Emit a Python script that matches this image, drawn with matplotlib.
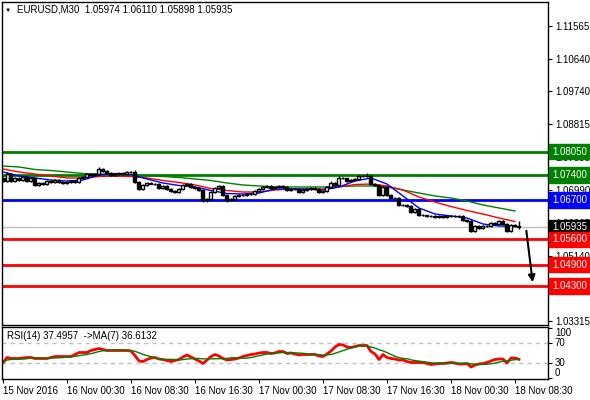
import matplotlib
matplotlib.use("Agg")
import matplotlib.pyplot as plt
import matplotlib.transforms as mtransforms
import numpy as np
import pandas as pd

plt.rcParams['font.family'] = ['Liberation Sans', 'DejaVu Sans']

symbol = "EURUSD,M30"
first_open = 1.07314
# closes of the 130 M30 bars, 15 Nov 16:30 .. 18 Nov 09:00
closes = [
    1.07230, 1.07425, 1.07230, 1.07314, 1.07258, 1.07342, 1.07230, 1.07314, 1.07119, 1.07174,
    1.07146, 1.07230, 1.07202, 1.07258, 1.07202, 1.07174, 1.07202, 1.07230, 1.07202, 1.07314,
    1.07342, 1.07425, 1.07398, 1.07425, 1.07565, 1.07509, 1.07453, 1.07398, 1.07425, 1.07453,
    1.07425, 1.07481, 1.07470, 1.07202, 1.07007, 1.07119, 1.07174, 1.07160, 1.07146, 1.07035,
    1.07091, 1.07007, 1.06951, 1.06923, 1.07007, 1.07119, 1.07146, 1.07063, 1.07035, 1.06979,
    1.06700, 1.06728, 1.06923, 1.07035, 1.07091, 1.06840, 1.06700, 1.06728, 1.06812, 1.06840,
    1.06830, 1.06867, 1.06860, 1.06951, 1.07007, 1.07063, 1.07091, 1.07035, 1.07063, 1.07091,
    1.07063, 1.06979, 1.07007, 1.07000, 1.06923, 1.06979, 1.07007, 1.07035, 1.07007, 1.06923,
    1.06951, 1.07063, 1.07174, 1.07119, 1.07314, 1.07300, 1.07230, 1.07258, 1.07286, 1.07370,
    1.07360, 1.07375, 1.07146, 1.07119, 1.06840, 1.07063, 1.06840, 1.06756, 1.06750, 1.06561,
    1.06555, 1.06533, 1.06365, 1.06449, 1.06282, 1.06275, 1.06254, 1.06250, 1.06226, 1.06254,
    1.06226, 1.06254, 1.06250, 1.06254, 1.06245, 1.06142, 1.06114, 1.05835, 1.05975, 1.05919,
    1.05975, 1.05970, 1.06058, 1.06030, 1.06114, 1.06030, 1.05835, 1.06003, 1.05974, 1.05935,
]
# wick lengths in pips above / below the body
hi_wick = [
    3, 6, 2, 3, 2, 3, 2, 4, 2, 3,
    2, 3, 2, 3, 2, 2, 2, 3, 2, 3,
    3, 3, 2, 3, 5, 3, 2, 2, 3, 2,
    3, 3, 3, 8, 2, 3, 3, 3, 2, 3,
    2, 3, 2, 2, 3, 3, 3, 2, 2, 2,
    3, 2, 3, 3, 3, 2, 2, 2, 3, 2,
    2, 2, 3, 3, 3, 3, 2, 2, 3, 2,
    2, 3, 2, 2, 2, 2, 2, 3, 2, 2,
    2, 3, 5, 3, 5, 3, 2, 2, 3, 4,
    3, 8, 3, 3, 3, 3, 3, 2, 2, 3,
    2, 2, 3, 3, 3, 2, 2, 2, 2, 2,
    2, 2, 2, 2, 2, 3, 3, 3, 3, 2,
    3, 2, 3, 2, 3, 2, 3, 3, 3, 13.6,
]
lo_wick = [
    3, 2, 3, 4, 2, 3, 3, 2, 3, 3,
    3, 3, 2, 3, 2, 2, 2, 3, 3, 3,
    2, 3, 3, 2, 2, 3, 3, 3, 2, 2,
    2, 2, 2, 3, 3, 4, 3, 2, 3, 3,
    3, 4, 3, 3, 3, 3, 2, 2, 3, 3,
    5, 5, 3, 2, 3, 3, 5, 4, 2, 3,
    2, 2, 2, 3, 2, 2, 3, 2, 3, 2,
    3, 2, 2, 3, 2, 2, 2, 2, 2, 3,
    3, 3, 3, 2, 3, 2, 3, 2, 2, 2,
    2, 2, 3, 3, 3, 3, 3, 3, 3, 3,
    2, 3, 3, 3, 3, 2, 2, 3, 2, 2,
    2, 2, 2, 2, 2, 3, 3, 4, 3, 3,
    3, 3, 3, 3, 3, 3, 4, 3, 3, 3.7,
]

# moving averages, sampled every 4 bars
ma_step = 4
ma_fast = [1.07481, 1.07370, 1.07314, 1.07258, 1.07230, 1.07258, 1.07398, 1.07439, 1.07411,
           1.07286, 1.07174, 1.07105, 1.07063, 1.06965, 1.06881, 1.06867, 1.06895, 1.07007,
           1.07007, 1.07007, 1.06979, 1.07063, 1.07230, 1.07314, 1.07146, 1.06812, 1.06477,
           1.06309, 1.06254, 1.06198, 1.06030, 1.05975, 1.05961]
ma_mid = [1.07565, 1.07481, 1.07425, 1.07370, 1.07314, 1.07314, 1.07356, 1.07370, 1.07356,
          1.07314, 1.07244, 1.07188, 1.07119, 1.07021, 1.06965, 1.06923, 1.06923, 1.06979,
          1.07007, 1.07007, 1.07007, 1.07063, 1.07132, 1.07146, 1.07091, 1.06979, 1.06784,
          1.06644, 1.06519, 1.06407, 1.06309, 1.06198, 1.06100]
ma_slow = [1.07649, 1.07621, 1.07551, 1.07523, 1.07481, 1.07439, 1.07425, 1.07411, 1.07398,
           1.07384, 1.07356, 1.07328, 1.07286, 1.07244, 1.07174, 1.07119, 1.07091, 1.07063,
           1.07063, 1.07063, 1.07063, 1.07077, 1.07091, 1.07091, 1.07063, 1.06979, 1.06895,
           1.06812, 1.06756, 1.06672, 1.06561, 1.06477, 1.06393]

rsi = [
    31, 41, 39, 39, 39, 40, 41, 41, 39, 39,
    39, 39, 41, 43, 43, 43, 43, 43, 47, 51,
    51, 51, 55, 57, 59, 57, 55, 55, 55, 55,
    55, 55, 54, 45, 34, 33, 37, 40, 41, 38,
    37, 35, 33, 35, 37, 42, 46, 42, 38, 34,
    29, 36, 43, 47, 44, 39, 36, 37, 38, 40,
    43, 45, 47, 48, 50, 51, 51, 49, 50, 53,
    53, 49, 50, 48, 46, 47, 47, 47, 47, 44,
    43, 48, 54, 62, 67, 66, 62, 61, 63, 65,
    65, 65, 53, 48, 37, 47, 41, 39, 38, 36,
    36, 33, 31, 31, 31, 31, 29, 27, 28, 29,
    29, 30, 31, 30, 28, 28, 29, 22, 26, 28,
    29, 31, 34, 37, 38, 38, 30, 40, 40, 37.4957,
]
rsi_ma_label = 36.6132

levels_green = [1.08050, 1.07400]
level_blue = 1.06700
levels_red = [1.05600, 1.04900, 1.04300]
price_ticks = [1.11565, 1.10640, 1.09740, 1.08815, 1.07890, 1.06990, 1.06065, 1.05140, 1.04215, 1.03315]
time_labels = ["15 Nov 2016", "16 Nov 00:30", "16 Nov 08:30", "16 Nov 16:30", "17 Nov 00:30",
               "17 Nov 08:30", "17 Nov 16:30", "18 Nov 00:30", "18 Nov 08:30"]
time_label_step = 16

closes = np.array(closes)
opens = np.concatenate([[first_open], closes[:-1]])
highs = np.maximum(opens, closes) + np.array(hi_wick) * 1e-4
lows = np.minimum(opens, closes) - np.array(lo_wick) * 1e-4
idx = np.arange(len(closes))

fig = plt.figure(figsize=(5.9, 4.0), dpi=100)
ax = fig.add_axes([2/590, 1-325/400, 546/590, 323/400])
rax = fig.add_axes([2/590, 1-379/400, 546/590, 52/400])

xlim = (-0.25, 136.25)

# level lines
for lv in levels_green:
    ax.axhline(lv, color='#008000', lw=2, zorder=1)
ax.axhline(level_blue, color='#0000ff', lw=2, zorder=1)
for lv in levels_red:
    ax.axhline(lv, color='#ff0000', lw=2, zorder=1)
ax.axhline(closes[-1], color='#c0c0c0', lw=1, zorder=1)

# moving averages
ma_x = idx[::ma_step]
ax.plot(ma_x, ma_slow, color='#008000', lw=1, zorder=2)
ax.plot(ma_x, ma_mid, color='#ff0000', lw=1, zorder=2)
ax.plot(ma_x, ma_fast, color='#0000ff', lw=1, zorder=2)

# candles
ax.vlines(idx, lows, highs, color='black', lw=1, zorder=3)
up = closes >= opens
body = np.maximum(np.abs(closes - opens), 0.00004)
ax.bar(idx, body, bottom=np.minimum(opens, closes), width=0.75,
       color=np.where(up, 'white', 'black'), edgecolor='black', linewidth=1, zorder=4)

# arrow
ax.annotate("", xy=(132.5, 1.04330), xytext=(130.75, 1.05919),
            arrowprops=dict(arrowstyle='-|>', color='black', lw=1.5, mutation_scale=10))

ax.set_xlim(*xlim)
ax.set_ylim(1.032125, 1.122242)
ax.yaxis.tick_right()
ax.set_yticks(price_ticks)
ax.set_yticklabels(["%.5f" % t for t in price_ticks])
ax.tick_params(axis='y', length=3, pad=2, labelsize=7, width=0.8)
ax.set_xticks([])

# price tags
trans = mtransforms.blended_transform_factory(ax.transAxes, ax.transData)
tags = [(levels_green[0], '#008000'), (levels_green[1], '#008000'), (level_blue, '#0000ff'),
        (closes[-1], 'black')] + [(lv, '#ff0000') for lv in levels_red]
for val, col in tags:
    ax.text(1.0075, val, "%.5f" % val, transform=trans, color='white', fontsize=7,
            va='center', ha='left', clip_on=False, zorder=10,
            bbox=dict(boxstyle='square,pad=0.28', facecolor=col, edgecolor=col))

fig.text(8/590, 1-10/400, "\u25bc", fontsize=4.5, va='center', ha='center')
fig.text(17/590, 1-10/400, "%s  %.5f %.5f %.5f %.5f" % (symbol, opens[-1], highs[-1], lows[-1], closes[-1]),
         fontsize=7, va='center', ha='left')

# RSI panel
rsi_s = pd.Series(rsi)
rsi_ma = rsi_s.rolling(7, min_periods=1).mean()
rax.axhline(70, color='#c0c0c0', lw=1, ls=(0, (3, 3)))
rax.axhline(30, color='#c0c0c0', lw=1, ls=(0, (3, 3)))
rax.plot(idx, rsi, color='#ff0000', lw=2)
rax.plot(idx, rsi_ma, color='#008000', lw=1)
rax.set_xlim(*xlim)
rax.set_ylim(-2, 102)
rax.yaxis.tick_right()
rax.set_yticks([100, 70, 30, 0])
rax.set_yticklabels(["100", "70", "30", "0"])
rax.tick_params(axis='y', length=3, pad=2, labelsize=7, width=0.8)
for lab, va in zip(rax.get_yticklabels(), ['top', 'center', 'center', 'bottom']):
    lab.set_va(va)
rax.set_xticks(idx[::time_label_step][:len(time_labels)])
rax.set_xticklabels(time_labels)
rax.tick_params(axis='x', length=3, pad=2, labelsize=7, width=0.8)
for lab in rax.get_xticklabels():
    lab.set_ha('left')
rax.text(5/546, 1-9/52, "RSI(14) %.4f  ->MA(7) %.4f" % (rsi[-1], rsi_ma_label),
         transform=rax.transAxes, fontsize=7, va='center', ha='left')

for a in (ax, rax):
    for sp in a.spines.values():
        sp.set_linewidth(1)
        sp.set_color('black')

fig.savefig("out.png", dpi=100)
